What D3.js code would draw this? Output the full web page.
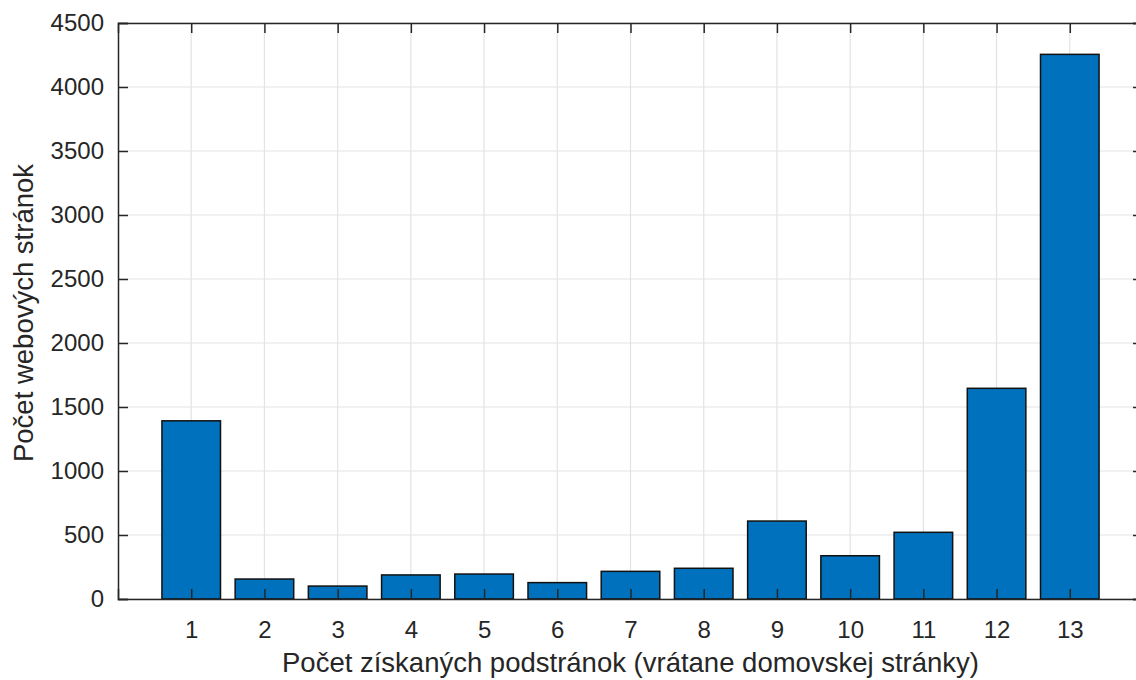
<!DOCTYPE html>
<html>
<head>
<meta charset="utf-8">
<script src="https://cdn.jsdelivr.net/npm/d3@7"></script>
<style>
  html, body { margin: 0; padding: 0; background: #ffffff; }
  svg { display: block; font-family: "Liberation Sans", Arial, Helvetica, sans-serif; }
</style>
</head>
<body>
<svg id="chart" width="1136" height="680"></svg>
<script>
// Number of crawled subpages per website (1..13) and how many websites fall into each bucket
const categories = [1, 2, 3, 4, 5, 6, 7, 8, 9, 10, 11, 12, 13];
const websiteCounts = [1392, 156, 101, 188, 195, 128, 216, 240, 609, 338, 521, 1646, 4255];
const yTicks = [0, 500, 1000, 1500, 2000, 2500, 3000, 3500, 4000, 4500];

const xLabel = "Počet získaných podstránok (vrátane domovskej stránky)";
const yLabel = "Počet webových stránok";

const svg = d3.select("#chart");
const axisColor = "#262626";
const gridColor = "#e3e3e3";
const barColor = "#0072BD";

const plotLeft = 118, plotRight = 1143, plotTop = 23, plotBottom = 599;

const x = d3.scaleLinear().domain([0, 14]).range([plotLeft, plotRight]);
const y = d3.scaleLinear().domain([0, 4500]).range([plotBottom, plotTop]);
const barWidth = (x(1) - x(0)) * 0.8;

// grid
const grid = svg.append("g");
grid.selectAll("line.v").data(categories).enter().append("line")
  .attr("x1", d => x(d)).attr("x2", d => x(d))
  .attr("y1", plotTop).attr("y2", plotBottom)
  .attr("stroke", gridColor).attr("stroke-width", 1.2);
grid.selectAll("line.h").data(yTicks).enter().append("line")
  .attr("x1", plotLeft).attr("x2", plotRight)
  .attr("y1", d => y(d)).attr("y2", d => y(d))
  .attr("stroke", gridColor).attr("stroke-width", 1.2);

// bars
svg.append("g").selectAll("rect").data(categories).enter().append("rect")
  .attr("x", (d) => x(d) - barWidth / 2)
  .attr("width", barWidth)
  .attr("y", (d, i) => y(websiteCounts[i]))
  .attr("height", (d, i) => y(0) - y(websiteCounts[i]))
  .attr("fill", barColor)
  .attr("stroke", "#111111")
  .attr("stroke-width", 1.5);

// axes (box with inward ticks)
const tickLen = 10;
const bottomAxis = d3.axisBottom(x).tickValues(categories).tickSize(-tickLen).tickPadding(22).tickFormat(d3.format("d"));
const topAxis = d3.axisTop(x).tickValues(categories).tickSize(-tickLen).tickFormat("");
const leftAxis = d3.axisLeft(y).tickValues(yTicks).tickSize(-tickLen).tickPadding(14).tickFormat(d3.format("d"));
const rightAxis = d3.axisRight(y).tickValues(yTicks).tickSize(-tickLen).tickFormat("");

function styleAxis(g) {
  g.select(".domain").attr("stroke", axisColor).attr("stroke-width", 1.5);
  g.selectAll(".tick line").attr("stroke", axisColor).attr("stroke-width", 1.5);
  g.selectAll(".tick text").attr("fill", axisColor).style("font-size", "24px")
    .style("font-family", "Liberation Sans, Arial, sans-serif");
}

svg.append("g").attr("transform", `translate(0,${plotBottom})`).call(bottomAxis).call(styleAxis);
svg.append("g").attr("transform", `translate(0,${plotTop})`).call(topAxis).call(styleAxis);
svg.append("g").attr("transform", `translate(${plotLeft},0)`).call(leftAxis).call(styleAxis);
svg.append("g").attr("transform", `translate(${plotRight},0)`).call(rightAxis).call(styleAxis);

// axis titles
svg.append("text")
  .attr("x", (plotLeft + plotRight) / 2).attr("y", 672)
  .attr("text-anchor", "middle")
  .attr("fill", axisColor)
  .style("font-size", "27.5px")
  .text(xLabel);

svg.append("text")
  .attr("transform", `translate(33,313) rotate(-90)`)
  .attr("text-anchor", "middle")
  .attr("fill", axisColor)
  .style("font-size", "27.5px")
  .text(yLabel);
</script>
</body>
</html>
